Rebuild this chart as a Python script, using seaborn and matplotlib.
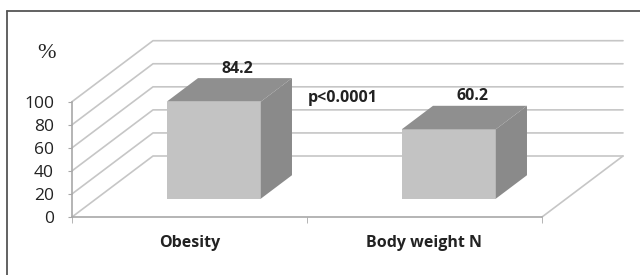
import matplotlib
matplotlib.use("Agg")
import matplotlib.pyplot as plt
from matplotlib.patches import Polygon
from matplotlib.lines import Line2D
import seaborn as sns
import pandas as pd

# data
groups = ["Obesity", "Body weight N"]
percent = [84.2, 60.2]
y_ticks = [0, 20, 40, 60, 80, 100]
p_text = "p<0.0001"

sns.set_style("white")
plt.rcParams['font.family'] = ['Open Sans', 'DejaVu Sans']
plt.rcParams['font.serif'] = ['Liberation Serif', 'DejaVu Serif']

front_col = "#c3c3c3"
top_col = "#8f8f8f"
side_col = "#8a8a8a"
grid_col = "#c6c6c6"
axis_col = "#a8a8a8"

# oblique depth (one full depth of the 3d box, in data units)
DX = 81 / 235
DY = 61 / 1.153
D_FRONT = 0.30   # bar front face depth
D_BAR = 0.385    # bar depth

fig = plt.figure(figsize=(6.4, 2.75), dpi=100)
ax = fig.add_axes([72 / 640, 58 / 275, 470 / 640, 115.3 / 275])

df = pd.DataFrame({"group": groups, "pct": percent})
sns.barplot(data=df, x="group", y="pct", color=front_col, saturation=1,
            width=0.4, linewidth=0, ax=ax, zorder=3)

ax.set_xlim(-0.5, 1.5)
ax.set_ylim(0, 100)

# walls / grid
for v in y_ticks:
    ax.plot([-0.5, -0.5 + DX, 1.5 + DX], [v, v + DY, v + DY],
            color=grid_col, lw=1.2, clip_on=False, zorder=0.5)
ax.plot([1.5, 1.5 + DX], [0, DY], color=grid_col, lw=1.2, clip_on=False, zorder=0.5)

# 3d faces of the bars
for p, val in zip(ax.patches, percent):
    p.set_x(p.get_x() + D_FRONT * DX)
    p.set_y(p.get_y() + D_FRONT * DY)
    x0, y0 = p.get_x(), p.get_y()
    x1, y1 = x0 + p.get_width(), y0 + p.get_height()
    ddx, ddy = D_BAR * DX, D_BAR * DY
    ax.add_patch(Polygon([(x0, y1), (x1, y1), (x1 + ddx, y1 + ddy), (x0 + ddx, y1 + ddy)],
                         closed=True, facecolor=top_col, lw=0, clip_on=False, zorder=3))
    ax.add_patch(Polygon([(x1, y0), (x1, y1), (x1 + ddx, y1 + ddy), (x1 + ddx, y0 + ddy)],
                         closed=True, facecolor=side_col, lw=0, clip_on=False, zorder=3))
    ax.text(x0 + p.get_width() / 2 + 0.1, y1 + ddy + 8.2, f"{val:.1f}",
            ha="center", va="center", fontsize=11.5, fontweight="bold", color="#222222")

ax.text(0.653, 103, p_text, ha="center", va="center", fontsize=11.5,
        fontweight="bold", color="#222222")
ax.text(-0.61, 142, "%", ha="center", va="center", color="#222222",
        family="serif", fontsize=16)

# axes styling
for s in ["top", "right"]:
    ax.spines[s].set_visible(False)
for s in ["left", "bottom"]:
    ax.spines[s].set_color(axis_col)
    ax.spines[s].set_linewidth(1.2)
ax.set_yticks(y_ticks)
ax.tick_params(axis="y", length=3, color=axis_col, direction="out", pad=10,
               labelsize=12.5, labelcolor="#222222", left=True)
ax.set_xticks([0, 1])
ax.set_xticklabels(groups, fontweight="bold")
ax.set_xticks([-0.5, 0.5, 1.5], minor=True)
ax.tick_params(axis="x", which="major", length=0, pad=13, labelsize=11.5, labelcolor="#222222")
ax.tick_params(axis="x", which="minor", length=4, color=axis_col, direction="out", bottom=True)
ax.set_xlabel("")
ax.set_ylabel("")
ax.patch.set_alpha(0)

# outer frame
fig.add_artist(Line2D([7 / 640, 7 / 640], [0, 264 / 275], color="#555555", lw=1.3))
fig.add_artist(Line2D([7 / 640, 1], [264 / 275, 264 / 275], color="#555555", lw=1.3))

fig.savefig("out.png", dpi=100)
